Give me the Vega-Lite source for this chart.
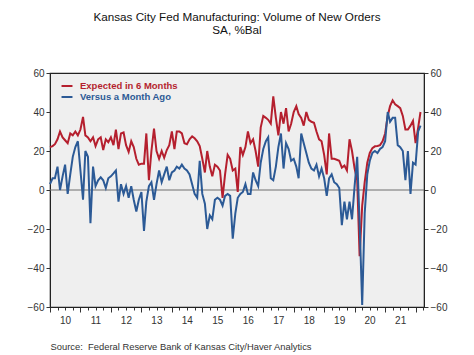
{
  "$schema": "https://vega.github.io/schema/vega-lite/v6.json",
  "width": 374,
  "height": 234,
  "autosize": {"type": "none"},
  "padding": {"left": 50, "top": 73, "right": 50, "bottom": 48},
  "background": "white",
  "title": {
    "text": "Kansas City Fed Manufacturing: Volume of New Orders",
    "subtitle": "SA, %Bal",
    "font": "Liberation Sans",
    "fontSize": 11.7,
    "fontWeight": "normal",
    "color": "#111111",
    "subtitleFont": "Liberation Sans",
    "subtitleFontSize": 11.7,
    "subtitleColor": "#111111",
    "subtitlePadding": 2,
    "anchor": "middle",
    "offset": 31
  },
  "config": {
    "view": {"fill": "#efefef", "stroke": "#222222", "strokeWidth": 1.2},
    "font": "Liberation Sans"
  },
  "data": {
    "values": [
      {"date": "2010-01-01", "exp": 22, "vs": 3},
      {"date": "2010-02-01", "exp": 22.5, "vs": 6},
      {"date": "2010-03-01", "exp": 23.5, "vs": 6},
      {"date": "2010-04-01", "exp": 26, "vs": 12},
      {"date": "2010-05-01", "exp": 30, "vs": 0},
      {"date": "2010-06-01", "exp": 27, "vs": 7},
      {"date": "2010-07-01", "exp": 25.5, "vs": 13},
      {"date": "2010-08-01", "exp": 24, "vs": -2},
      {"date": "2010-09-01", "exp": 29, "vs": 8},
      {"date": "2010-10-01", "exp": 28, "vs": 17},
      {"date": "2010-11-01", "exp": 30, "vs": 22},
      {"date": "2010-12-01", "exp": 28, "vs": 25},
      {"date": "2011-01-01", "exp": 31, "vs": 10},
      {"date": "2011-02-01", "exp": 37.5, "vs": -5},
      {"date": "2011-03-01", "exp": 28, "vs": 20},
      {"date": "2011-04-01", "exp": 27, "vs": 17},
      {"date": "2011-05-01", "exp": 25, "vs": -17},
      {"date": "2011-06-01", "exp": 27, "vs": 12},
      {"date": "2011-07-01", "exp": 22.5, "vs": 2},
      {"date": "2011-08-01", "exp": 26, "vs": 5},
      {"date": "2011-09-01", "exp": 27, "vs": 6.5},
      {"date": "2011-10-01", "exp": 20.5, "vs": 5},
      {"date": "2011-11-01", "exp": 26, "vs": 1},
      {"date": "2011-12-01", "exp": 24.5, "vs": 6},
      {"date": "2012-01-01", "exp": 27, "vs": 7},
      {"date": "2012-02-01", "exp": 23, "vs": 8.5},
      {"date": "2012-03-01", "exp": 31, "vs": 10},
      {"date": "2012-04-01", "exp": 21, "vs": -6},
      {"date": "2012-05-01", "exp": 29, "vs": 3},
      {"date": "2012-06-01", "exp": 29.5, "vs": -2},
      {"date": "2012-07-01", "exp": 23, "vs": 2},
      {"date": "2012-08-01", "exp": 19.5, "vs": -4},
      {"date": "2012-09-01", "exp": 25, "vs": 2},
      {"date": "2012-10-01", "exp": 22, "vs": -5},
      {"date": "2012-11-01", "exp": 16, "vs": -11},
      {"date": "2012-12-01", "exp": 13, "vs": -5},
      {"date": "2013-01-01", "exp": 13.5, "vs": -1},
      {"date": "2013-02-01", "exp": 13.5, "vs": -21},
      {"date": "2013-03-01", "exp": 29, "vs": -6},
      {"date": "2013-04-01", "exp": 5, "vs": 2},
      {"date": "2013-05-01", "exp": 20, "vs": 4},
      {"date": "2013-06-01", "exp": 31.5, "vs": -5},
      {"date": "2013-07-01", "exp": 20, "vs": 3},
      {"date": "2013-08-01", "exp": 16, "vs": 10},
      {"date": "2013-09-01", "exp": 20, "vs": 4},
      {"date": "2013-10-01", "exp": 16.5, "vs": 8},
      {"date": "2013-11-01", "exp": 20.5, "vs": 12},
      {"date": "2013-12-01", "exp": 23, "vs": 5},
      {"date": "2014-01-01", "exp": 30, "vs": 9},
      {"date": "2014-02-01", "exp": 21, "vs": 10},
      {"date": "2014-03-01", "exp": 30, "vs": 12},
      {"date": "2014-04-01", "exp": 30, "vs": 11},
      {"date": "2014-05-01", "exp": 29, "vs": 13},
      {"date": "2014-06-01", "exp": 24, "vs": 11},
      {"date": "2014-07-01", "exp": 23.5, "vs": 10},
      {"date": "2014-08-01", "exp": 26, "vs": 8},
      {"date": "2014-09-01", "exp": 27.5, "vs": 3},
      {"date": "2014-10-01", "exp": 26.5, "vs": -2},
      {"date": "2014-11-01", "exp": 25, "vs": -4},
      {"date": "2014-12-01", "exp": 22.5, "vs": 15},
      {"date": "2015-01-01", "exp": 16, "vs": -2},
      {"date": "2015-02-01", "exp": 9, "vs": -7},
      {"date": "2015-03-01", "exp": 20, "vs": -20},
      {"date": "2015-04-01", "exp": 12, "vs": -13},
      {"date": "2015-05-01", "exp": 7, "vs": -15},
      {"date": "2015-06-01", "exp": 13, "vs": -5},
      {"date": "2015-07-01", "exp": 12, "vs": -4},
      {"date": "2015-08-01", "exp": 10, "vs": -5},
      {"date": "2015-09-01", "exp": -4, "vs": -8},
      {"date": "2015-10-01", "exp": 8, "vs": -3},
      {"date": "2015-11-01", "exp": 18, "vs": -2},
      {"date": "2015-12-01", "exp": 16, "vs": -3},
      {"date": "2016-01-01", "exp": 10, "vs": -25},
      {"date": "2016-02-01", "exp": 11, "vs": -12},
      {"date": "2016-03-01", "exp": -1, "vs": -4},
      {"date": "2016-04-01", "exp": 22, "vs": -2},
      {"date": "2016-05-01", "exp": 18, "vs": -1},
      {"date": "2016-06-01", "exp": 22, "vs": 3},
      {"date": "2016-07-01", "exp": 30, "vs": -2},
      {"date": "2016-08-01", "exp": 24, "vs": -2},
      {"date": "2016-09-01", "exp": 26, "vs": 9},
      {"date": "2016-10-01", "exp": 20, "vs": 5},
      {"date": "2016-11-01", "exp": 12, "vs": 2},
      {"date": "2016-12-01", "exp": 32, "vs": 14},
      {"date": "2017-01-01", "exp": 38, "vs": 21},
      {"date": "2017-02-01", "exp": 37, "vs": 25},
      {"date": "2017-03-01", "exp": 36, "vs": 27},
      {"date": "2017-04-01", "exp": 34, "vs": 6},
      {"date": "2017-05-01", "exp": 48, "vs": 5},
      {"date": "2017-06-01", "exp": 37, "vs": 12},
      {"date": "2017-07-01", "exp": 28, "vs": 22},
      {"date": "2017-08-01", "exp": 40, "vs": 29},
      {"date": "2017-09-01", "exp": 34, "vs": 11},
      {"date": "2017-10-01", "exp": 42, "vs": 24},
      {"date": "2017-11-01", "exp": 30, "vs": 21},
      {"date": "2017-12-01", "exp": 34, "vs": 15},
      {"date": "2018-01-01", "exp": 40, "vs": 16},
      {"date": "2018-02-01", "exp": 43, "vs": 12},
      {"date": "2018-03-01", "exp": 39, "vs": 6},
      {"date": "2018-04-01", "exp": 37, "vs": 29},
      {"date": "2018-05-01", "exp": 33, "vs": 24},
      {"date": "2018-06-01", "exp": 40, "vs": 19},
      {"date": "2018-07-01", "exp": 36, "vs": 14},
      {"date": "2018-08-01", "exp": 35, "vs": 11},
      {"date": "2018-09-01", "exp": 34.5, "vs": 10},
      {"date": "2018-10-01", "exp": 30, "vs": 13},
      {"date": "2018-11-01", "exp": 26, "vs": 7},
      {"date": "2018-12-01", "exp": 25, "vs": 11},
      {"date": "2019-01-01", "exp": 18, "vs": 6},
      {"date": "2019-02-01", "exp": 8, "vs": -3},
      {"date": "2019-03-01", "exp": 29, "vs": 6},
      {"date": "2019-04-01", "exp": 16, "vs": 8},
      {"date": "2019-05-01", "exp": 16, "vs": 4},
      {"date": "2019-06-01", "exp": 15.5, "vs": 3},
      {"date": "2019-07-01", "exp": 15, "vs": 1},
      {"date": "2019-08-01", "exp": 11.5, "vs": -18},
      {"date": "2019-09-01", "exp": 12.5, "vs": -6},
      {"date": "2019-10-01", "exp": 10, "vs": -15},
      {"date": "2019-11-01", "exp": 26, "vs": -6},
      {"date": "2019-12-01", "exp": 20, "vs": -15},
      {"date": "2020-01-01", "exp": 11, "vs": 2},
      {"date": "2020-02-01", "exp": 5, "vs": 17},
      {"date": "2020-03-01", "exp": -34, "vs": -17},
      {"date": "2020-04-01", "exp": -8, "vs": -59},
      {"date": "2020-05-01", "exp": 4, "vs": -12},
      {"date": "2020-06-01", "exp": 14, "vs": 8},
      {"date": "2020-07-01", "exp": 19, "vs": 15},
      {"date": "2020-08-01", "exp": 21.5, "vs": 19},
      {"date": "2020-09-01", "exp": 22.4, "vs": 20},
      {"date": "2020-10-01", "exp": 22.6, "vs": 19},
      {"date": "2020-11-01", "exp": 23, "vs": 21},
      {"date": "2020-12-01", "exp": 25, "vs": 22},
      {"date": "2021-01-01", "exp": 29, "vs": 25},
      {"date": "2021-02-01", "exp": 38, "vs": 40},
      {"date": "2021-03-01", "exp": 43, "vs": 35},
      {"date": "2021-04-01", "exp": 46, "vs": 37},
      {"date": "2021-05-01", "exp": 44, "vs": 37},
      {"date": "2021-06-01", "exp": 43, "vs": 23},
      {"date": "2021-07-01", "exp": 42, "vs": 22},
      {"date": "2021-08-01", "exp": 38, "vs": 20},
      {"date": "2021-09-01", "exp": 31, "vs": 5},
      {"date": "2021-10-01", "exp": 31, "vs": 20},
      {"date": "2021-11-01", "exp": 33, "vs": -2},
      {"date": "2021-12-01", "exp": 35.5, "vs": 14},
      {"date": "2022-01-01", "exp": 24, "vs": 13},
      {"date": "2022-02-01", "exp": 32, "vs": 30},
      {"date": "2022-03-01", "exp": 40, "vs": 33}
    ]
  },
  "layer": [
    {
      "data": {"values": [{}]},
      "mark": {"type": "rule", "color": "#6e6e6e", "strokeWidth": 1},
      "encoding": {
        "y": {
          "datum": 0,
          "type": "quantitative",
          "scale": {"domain": [-60, 60], "nice": false},
          "axis": {
            "orient": "right",
            "title": null,
            "values": [-60, -40, -20, 0, 20, 40, 60],
            "grid": false,
            "tickSize": 4,
            "tickColor": "#333333",
            "domainColor": "#222222",
            "labelFont": "Liberation Sans",
            "labelFontSize": 10,
            "labelColor": "#333333",
            "labelPadding": 2
          }
        }
      }
    },
    {
      "mark": {"type": "line", "strokeWidth": 2, "interpolate": "linear"},
      "encoding": {
        "x": {
          "field": "date",
          "type": "temporal",
          "scale": {"domain": [{"year": 2010, "month": 1, "date": 1}, {"year": 2022, "month": 4, "date": 12}]},
          "axis": {
            "title": "Source:\u00a0 Federal Reserve Bank of Kansas City/Haver Analytics",
            "titleAnchor": "start",
            "titleAlign": "left",
            "titleFont": "Liberation Sans",
            "titleFontWeight": "normal",
            "titleFontSize": 9.4,
            "titleColor": "#333333",
            "titlePadding": 17,
            "tickCount": {"interval": "month", "step": 3},
            "labelExpr": "month(datum.value) == 0 && year(datum.value) < 2022 ? timeFormat(datum.value, '%y') : ''",
            "labelOffset": 15,
            "labelAlign": "center",
            "labelFlush": false,
            "labelOverlap": false,
            "labelBound": false,
            "tickSize": {"condition": {"test": "month(datum.value) == 0", "value": 5}, "value": 3},
            "tickColor": "#333333",
            "domainColor": "#222222",
            "grid": false,
            "labelFont": "Liberation Sans",
            "labelFontSize": 10,
            "labelColor": "#333333",
            "labelPadding": 3
          }
        },
        "y": {
          "field": "exp",
          "type": "quantitative",
          "scale": {"domain": [-60, 60], "nice": false},
          "axis": {
            "orient": "left",
            "title": null,
            "values": [-60, -40, -20, 0, 20, 40, 60],
            "grid": false,
            "tickSize": 4,
            "tickColor": "#333333",
            "domainColor": "#222222",
            "labelFont": "Liberation Sans",
            "labelFontSize": 10,
            "labelColor": "#333333",
            "labelPadding": 2
          }
        },
        "color": {
          "datum": "Expected in 6 Months",
          "type": "nominal",
          "scale": {"domain": ["Expected in 6 Months", "Versus a Month Ago"], "range": ["#b51f2e", "#2c5a96"]},
          "legend": {
            "title": null,
            "orient": "none",
            "legendX": 10.5,
            "legendY": 6.5,
            "padding": 0,
            "symbolType": "stroke",
            "symbolSize": 120,
            "symbolStrokeWidth": 2,
            "labelFont": "Liberation Sans",
            "labelFontSize": 9.5,
            "labelFontWeight": "bold",
            "labelOffset": 6.5,
            "rowPadding": 0,
            "labelColor": {"expr": "datum.value == 'Expected in 6 Months' ? '#b51f2e' : '#2c5a96'"}
          }
        }
      }
    },
    {
      "mark": {"type": "line", "strokeWidth": 2, "interpolate": "linear"},
      "encoding": {
        "x": {"field": "date", "type": "temporal"},
        "y": {"field": "vs", "type": "quantitative", "axis": null},
        "color": {"datum": "Versus a Month Ago", "type": "nominal"}
      }
    }
  ],
  "resolve": {"axis": {"y": "independent"}}
}
